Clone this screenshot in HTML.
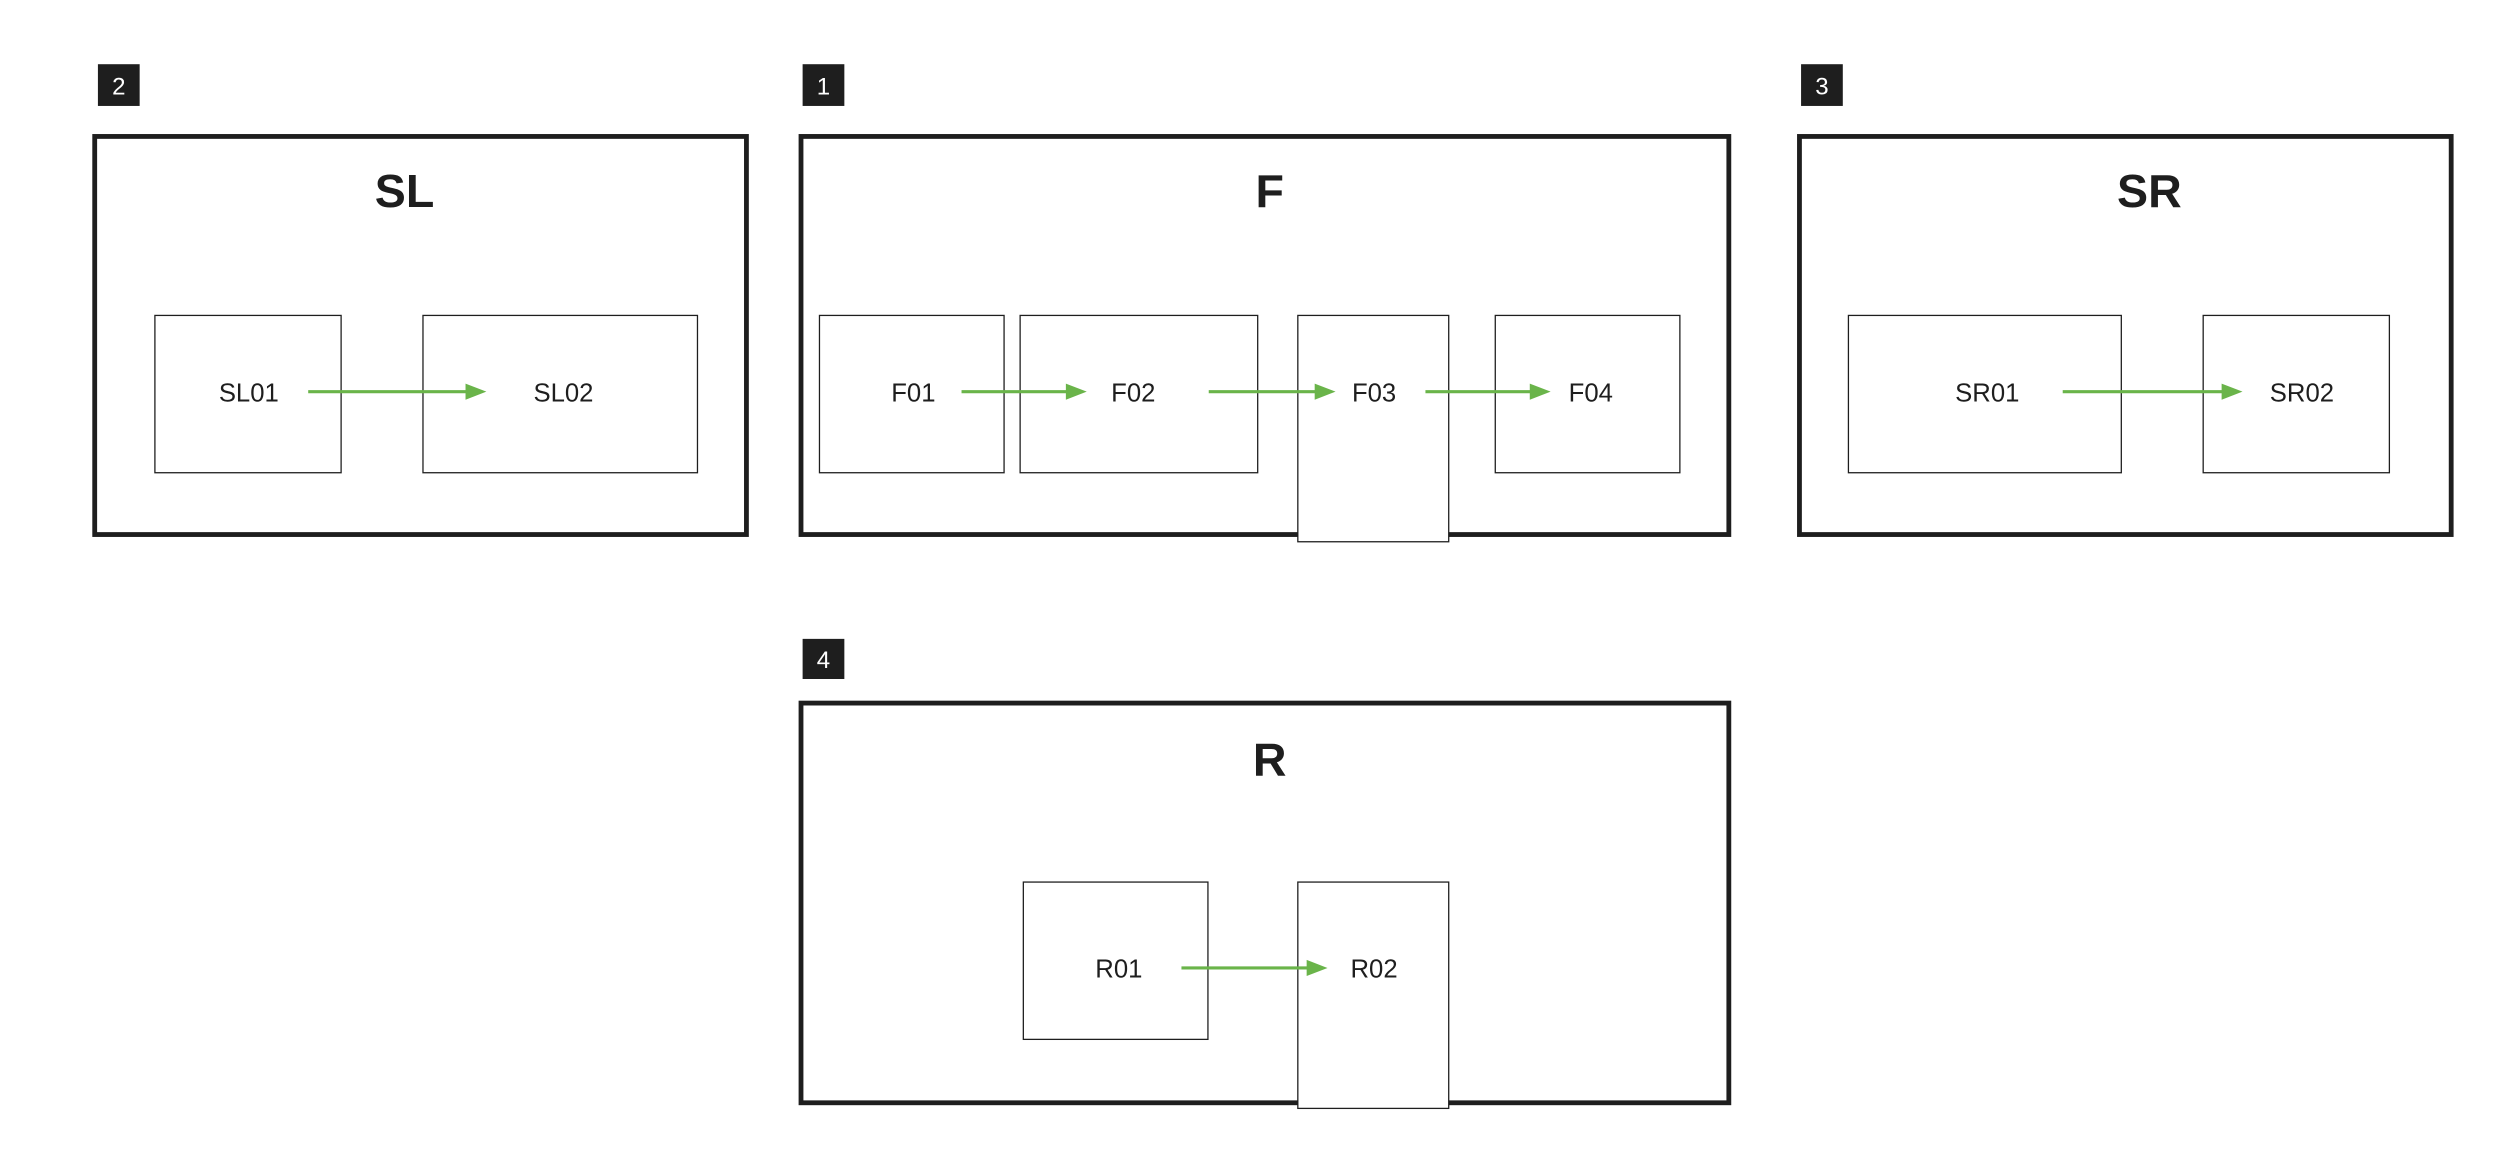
<!DOCTYPE html>
<html><head><meta charset="utf-8"><style>
html,body{margin:0;padding:0;background:#fff;width:2517px;height:1158px;overflow:hidden}
svg{display:block}
.t{font-family:"Liberation Sans",sans-serif;font-weight:bold;font-size:29px;fill:#1e1e1e;text-anchor:middle}
.l{font-family:"Liberation Sans",sans-serif;font-size:16px;fill:#1e1e1e;text-anchor:middle}
.b{font-family:"Liberation Sans",sans-serif;font-size:15px;fill:#fff;text-anchor:middle}
.g{fill:#fff;stroke:#1e1e1e;stroke-width:3}
.n{fill:#fff;stroke:#1e1e1e;stroke-width:0.8}
.a{stroke:#6ab44a;stroke-width:2;fill:none}
.h{fill:#6ab44a}
</style></head><body>
<svg width="2517" height="1158" viewBox="0 0 1568 721.4" preserveAspectRatio="none">
<rect x="61" y="40" width="26" height="26" fill="#1e1e1e"/><text class="b" x="74" y="59">2</text>
<rect x="500" y="40" width="26" height="26" fill="#1e1e1e"/><text class="b" x="513" y="59">1</text>
<rect x="1122" y="40" width="26" height="26" fill="#1e1e1e"/><text class="b" x="1135" y="59">3</text>
<rect x="500" y="398" width="26" height="25" fill="#1e1e1e"/><text class="b" x="513" y="416">4</text>
<rect class="g" x="59" y="85" width="406" height="248"/>
<rect class="g" x="499" y="85" width="578" height="248"/>
<rect class="g" x="1121" y="85" width="406" height="248"/>
<rect class="g" x="499" y="438" width="578" height="249"/>
<text class="t" x="252" y="129">SL</text>
<text class="t" x="791" y="129">F</text>
<text class="t" x="1339" y="129">SR</text>
<text class="t" x="791" y="483">R</text>
<rect class="n" x="96.5" y="196.5" width="116" height="98"/>
<rect class="n" x="263.5" y="196.5" width="171" height="98"/>
<rect class="n" x="510.5" y="196.5" width="115" height="98"/>
<rect class="n" x="635.5" y="196.5" width="148" height="98"/>
<rect class="n" x="808.5" y="196.5" width="94" height="141"/>
<rect class="n" x="931.5" y="196.5" width="115" height="98"/>
<rect class="n" x="1151.5" y="196.5" width="170" height="98"/>
<rect class="n" x="1372.5" y="196.5" width="116" height="98"/>
<rect class="n" x="637.5" y="549.5" width="115" height="98"/>
<rect class="n" x="808.5" y="549.5" width="94" height="141"/>
<g>
<line class="a" x1="192" y1="244" x2="292" y2="244"/><polygon class="h" points="290,239 303,244 290,249"/>
<line class="a" x1="599" y1="244" x2="666" y2="244"/><polygon class="h" points="664,239 677,244 664,249"/>
<line class="a" x1="753" y1="244" x2="821" y2="244"/><polygon class="h" points="819,239 832,244 819,249"/>
<line class="a" x1="888" y1="244" x2="955" y2="244"/><polygon class="h" points="953,239 966,244 953,249"/>
<line class="a" x1="1285" y1="244" x2="1386" y2="244"/><polygon class="h" points="1384,239 1397,244 1384,249"/>
<line class="a" x1="736" y1="603" x2="816" y2="603"/><polygon class="h" points="814,598 827,603 814,608"/>
</g>
<text class="l" x="155" y="250">SL01</text>
<text class="l" x="351" y="250">SL02</text>
<text class="l" x="569" y="250">F01</text>
<text class="l" x="706" y="250">F02</text>
<text class="l" x="856" y="250">F03</text>
<text class="l" x="991" y="250">F04</text>
<text class="l" x="1238" y="250">SR01</text>
<text class="l" x="1434" y="250">SR02</text>
<text class="l" x="697" y="609">R01</text>
<text class="l" x="856" y="609">R02</text>
</svg>
</body></html>
